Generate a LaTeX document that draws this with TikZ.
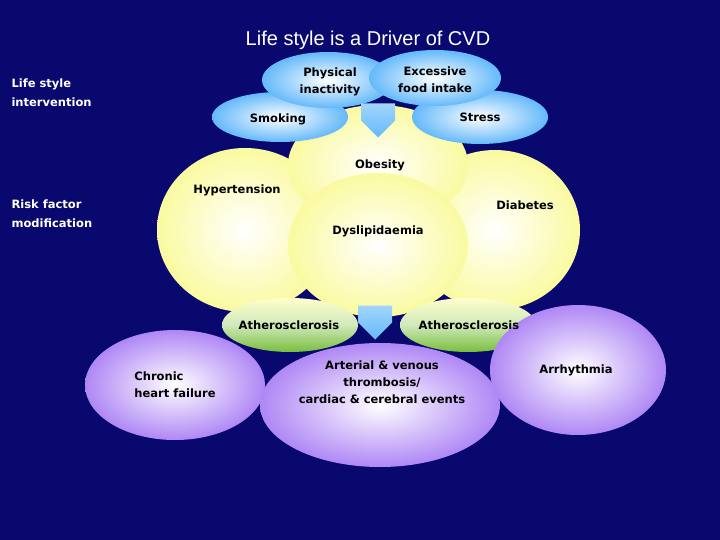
\documentclass[tikz,border=0pt]{standalone}
\usepackage{fontspec}
\setmainfont{DejaVu Sans}
\newfontfamily\titlefont{Liberation Sans}
\usetikzlibrary{shapes.arrows}
\definecolor{bg}{RGB}{8,8,110}
\definecolor{yel}{RGB}{250,250,160}
\definecolor{blu}{RGB}{100,185,250}
\definecolor{grn}{RGB}{120,190,60}
\definecolor{pur}{RGB}{175,135,245}
\tikzset{
 yb/.style={shading=radial,inner color=white,outer color=yel},
 bb/.style={shading=radial,inner color=white,outer color=blu},
 gb/.style={top color=white!80!yellow,bottom color=grn,middle color=grn!35!white},
 pb/.style={shading=radial,inner color=white,outer color=pur},
 lbl/.style={font=\bfseries\fontsize{11.5}{17}\selectfont,text=black,align=center},
 side/.style={font=\bfseries\fontsize{11.5}{19}\selectfont,text=white,align=left,anchor=west},
 arr/.style={single arrow,shape border rotate=270,top color=blu!60!white,bottom color=blu,minimum width=34pt,single arrow head extend=0pt,minimum height=34pt,inner sep=0pt}
}
\begin{document}
\begin{tikzpicture}[x=1pt,y=-1pt]
\fill[bg] (0,0) rectangle (720,540);
\node[font=\titlefont\fontsize{20}{22}\selectfont,text=white] (title) at (368,40) {Life style is a Driver of CVD};
\node[side] (ls) at (8,93) {Life style\\intervention};
\node[side] (rf) at (8,214) {Risk factor\\modification};
% yellow circles
\shade[yb] (245,230) ellipse (88 and 82);
\shade[yb] (495,230) ellipse (85 and 80);
\shade[yb] (378,165) ellipse (90 and 60);
\shade[yb] (378,245) ellipse (90 and 72);
% blue
\shade[bb] (280,117) ellipse (68 and 25);
\shade[bb] (480,117) ellipse (68 and 27);
\shade[bb] (328,80) ellipse (66 and 28);
\shade[bb] (435,78) ellipse (66 and 28);
\node[arr] (a1) at (378,112) {};
% green
\shade[gb] (290,325) ellipse (68 and 27);
\shade[gb] (468,325) ellipse (68 and 27);
% purple
\shade[pb] (175,385) ellipse (90 and 55);
\shade[pb] (578,370) ellipse (88 and 65);
\shade[pb] (380,405) ellipse (120 and 62);
\node[arr] (a2) at (375,314) {};
% labels
\node[lbl] (pi) at (330,82) {Physical\\inactivity};
\node[lbl] (ef) at (435,80) {Excessive\\food intake};
\node[lbl] (sm) at (278,119) {Smoking};
\node[lbl] (st) at (480,117) {Stress};
\node[lbl] (ob) at (380,165) {Obesity};
\node[lbl] (ht) at (237,190) {Hypertension};
\node[lbl] (db) at (525,205) {Diabetes};
\node[lbl] (dl) at (378,231) {Dyslipidaemia};
\node[lbl] (at1) at (289,325) {Atherosclerosis};
\node[lbl] (at2) at (469,325) {Atherosclerosis};
\node[lbl,align=left] (ch) at (175,385) {Chronic\\heart failure};
\node[lbl] (av) at (382,382) {Arterial \& venous\\thrombosis/\\cardiac \& cerebral events};
\node[lbl] (ar) at (576,370) {Arrhythmia};
\end{tikzpicture}
\end{document}
